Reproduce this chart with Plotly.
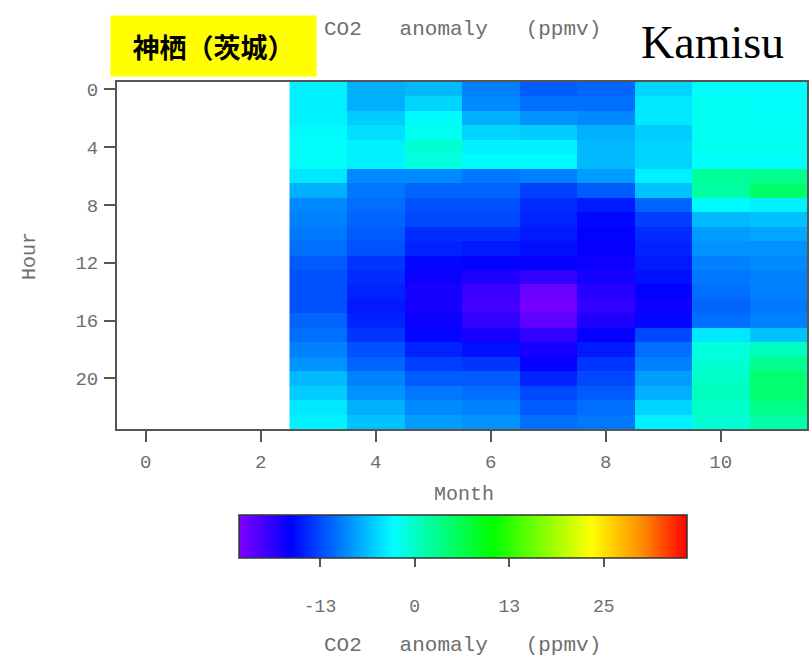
import plotly.graph_objects as go

# Months with data (Jan-Mar axis values 0..2 are empty)
months = [3, 4, 5, 6, 7, 8, 9, 10, 11]
hours = list(range(24))

# CO2 anomaly (ppmv) by hour 0..23 for each month
m3 = [-3.5, -3.5, -3.5, -3, -2.5, -2.5, -4, -7, -9, -9.5, -10, -10.5, -11.5, -12, -12, -12, -11, -10.5, -9.5, -8.5, -6.5, -5.5, -4, -3.5]
m4 = [-7, -7, -5.5, -4.5, -3.5, -3.5, -9, -10, -10.5, -11, -11.5, -12, -13.5, -14, -14.5, -15, -14.5, -13.5, -12, -11, -9.5, -8.5, -7, -6]
m5 = [-6.5, -5, -3, -2, -0.5, -1, -9, -11, -12, -12.5, -14, -14.5, -16, -17, -17.5, -17.5, -17, -16, -14.5, -13, -11.5, -10, -9, -8]
m6 = [-9.5, -9, -7, -5, -3.5, -3, -10, -11, -12, -12.5, -14, -15, -16.5, -18, -19.5, -20, -19, -17.5, -15.5, -13.5, -11.5, -10.5, -9.5, -8.5]
m7 = [-11.5, -10.5, -8.5, -5.5, -3.5, -3, -9.5, -13, -14, -14.5, -15, -15.5, -16.5, -19, -22, -22.5, -21.5, -19, -17.5, -16.5, -14.5, -12.5, -11.5, -10.5]
m8 = [-11, -10.5, -9, -7, -6.5, -6.5, -8, -11.5, -15, -16, -16.5, -16.5, -17, -17.5, -18.5, -19, -18, -16.5, -15, -13.5, -12.5, -11.5, -10.5, -10]
m9 = [-5, -4, -4, -5.5, -5, -5, -3.5, -6, -11, -13, -14, -14.5, -15, -15.5, -16.5, -17, -16, -12.5, -10.5, -9.5, -8, -7, -5, -3.5]
m10 = [-2.5, -2, -2, -2, -2, -2.5, 2.5, 2, -3, -6.5, -8, -8.5, -9.5, -10, -10.5, -11, -10.5, -4, -1, -0.5, 0, 0.5, 0, -0.5]
m11 = [-2.5, -2.5, -2.5, -2, -2, -2.5, 3, 5, -3.5, -6, -7.5, -8.5, -9, -9.5, -9.5, -10, -9.5, -6, 0.5, 3, 4.5, 4.5, 3.5, 1.5]

month_cols = [m3, m4, m5, m6, m7, m8, m9, m10, m11]
z = [[col[h] for col in month_cols] for h in hours]

x_ticks = [0, 2, 4, 6, 8, 10]
y_ticks = [0, 4, 8, 12, 16, 20]
cb_tickvals = [-12.5, 0, 12.5, 25]
cb_ticktext = ["-13", "0", "13", "25"]
zmin, zmax = -23.2, 36.0

colorscale = [
    [0.0, "#8000ff"],
    [0.116, "#0000ff"],
    [0.345, "#00ffff"],
    [0.565, "#00ff00"],
    [0.786, "#ffff00"],
    [0.9, "#ff8c00"],
    [1.0, "#ff0000"],
]

mono = "Liberation Mono"
gray = "#6e6e6e"

fig = go.Figure()
fig.add_trace(go.Heatmap(
    x=months, y=hours, z=z,
    zmin=zmin, zmax=zmax, colorscale=colorscale,
    zsmooth=False,
    hoverinfo="skip",
    colorbar=dict(
        orientation="h",
        x=0.5015, xanchor="center",
        y=-0.248, yanchor="top",
        len=448, lenmode="pixels",
        thickness=43, thicknessmode="pixels",
        xpad=0, ypad=0,
        outlinecolor="#333333", outlinewidth=1.5,
        tickmode="array", tickvals=cb_tickvals,
        ticktext=["<br>" + t for t in cb_ticktext],
        ticks="outside", ticklen=9, tickwidth=1.5, tickcolor="#555555",
        tickfont=dict(family=mono, size=18, color=gray),
    ),
))

fig.update_layout(
    width=809, height=666,
    margin=dict(l=117, r=0, t=82, b=237),
    paper_bgcolor="white", plot_bgcolor="white",
    showlegend=False,
    xaxis=dict(
        range=[-0.5, 11.5], tickmode="array", tickvals=x_ticks,
        ticks="outside", ticklen=11, tickwidth=1.5, tickcolor="#555555",
        showline=True, linecolor="#555555", linewidth=2, mirror=True,
        showgrid=False, zeroline=False,
        tickfont=dict(family=mono, size=19, color=gray),
        ticklabelstandoff=3,
    ),
    yaxis=dict(
        range=[23.5, -0.5], tickmode="array", tickvals=y_ticks,
        ticks="outside", ticklen=11, tickwidth=1.5, tickcolor="#555555",
        showline=True, linecolor="#555555", linewidth=2, mirror=True,
        showgrid=False, zeroline=False,
        tickfont=dict(family=mono, size=19, color=gray),
        ticklabelstandoff=2,
    ),
    annotations=[
        dict(text="神栖（茨城）", xref="paper", yref="paper", x=0.1402, y=1.104,
             xanchor="center", yanchor="middle", showarrow=False,
             width=203, height=58, bgcolor="#ffff00",
             font=dict(family="Noto Sans CJK JP", size=27, color="black", weight="bold")),
        dict(text="CO2   anomaly   (ppmv)", xref="paper", yref="paper", x=0.5, y=1.15,
             xanchor="center", yanchor="middle", showarrow=False,
             font=dict(family=mono, size=21, color=gray)),
        dict(text="Kamisu", xref="paper", yref="paper", x=0.863, y=1.115,
             xanchor="center", yanchor="middle", showarrow=False,
             font=dict(family="Liberation Serif", size=46, color="black")),
        dict(text="Month", xref="paper", yref="paper", x=0.503, y=-0.19,
             xanchor="center", yanchor="middle", showarrow=False,
             font=dict(family=mono, size=20, color=gray)),
        dict(text="Hour", xref="paper", yref="paper", x=-0.126, y=0.4986,
             xanchor="center", yanchor="middle", showarrow=False, textangle=-90,
             font=dict(family=mono, size=20, color=gray)),
        dict(text="CO2   anomaly   (ppmv)", xref="paper", yref="paper", x=0.5, y=-0.625,
             xanchor="center", yanchor="middle", showarrow=False,
             font=dict(family=mono, size=21, color=gray)),
    ],
)

fig.write_html("out.html")
